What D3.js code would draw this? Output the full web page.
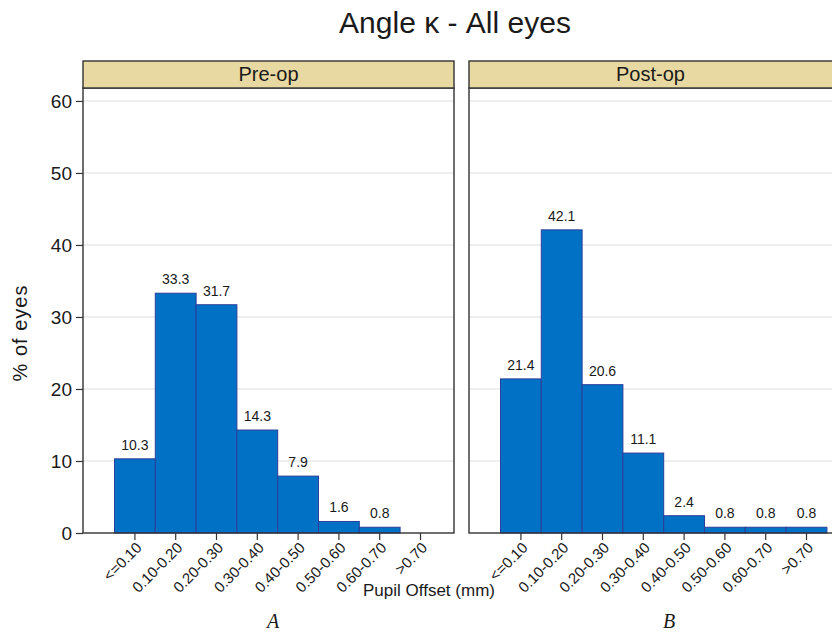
<!DOCTYPE html>
<html>
<head>
<meta charset="utf-8">
<script src="https://cdn.jsdelivr.net/npm/d3@7"></script>
<style>
  html, body { margin: 0; padding: 0; background: #fff; }
  svg { display: block; }
  text { font-family: Arial, "Liberation Sans", sans-serif; fill: #1a1a1a; }
</style>
</head>
<body>
<svg id="chart" width="832" height="633"></svg>
<script>
// ---- Data ----
const categories = ["<=0.10", "0.10-0.20", "0.20-0.30", "0.30-0.40", "0.40-0.50", "0.50-0.60", "0.60-0.70", ">0.70"];
const preOp  = [10.3, 33.3, 31.7, 14.3, 7.9, 1.6, 0.8, null];
const postOp = [21.4, 42.1, 20.6, 11.1, 2.4, 0.8, 0.8, 0.8];
const panelTitles = ["Pre-op", "Post-op"];
const panelLetters = ["A", "B"];
const yTicks = [0, 10, 20, 30, 40, 50, 60];

// ---- Layout ----
const svg = d3.select("#chart");
const stripTop = 61, stripH = 27, plotTop = stripTop + stripH, plotBottom = 533;
const panelW = 371;
const panelX = [83, 469];
const bandOffset = 31.5, bandStep = 40.8;

const y = d3.scaleLinear().domain([0, 61.8]).range([plotBottom, plotTop]);

// Title
svg.append("text")
  .attr("x", 455).attr("y", 33)
  .attr("text-anchor", "middle")
  .style("font-size", "30px")
  .text("Angle \u03BA - All eyes");

// Y axis title
svg.append("text")
  .attr("transform", "translate(27,333) rotate(-90)")
  .attr("text-anchor", "middle")
  .style("font-size", "20px")
  .style("letter-spacing", "1px")
  .text("% of eyes");

// Y axis (left panel only)
const yAxis = d3.axisLeft(y).tickValues(yTicks).tickSize(7).tickPadding(4).tickFormat(d3.format("d"));
const yg = svg.append("g").attr("transform", `translate(${panelX[0]},0)`).call(yAxis);
yg.select(".domain").remove();
yg.selectAll("line").attr("stroke", "#333").attr("stroke-width", 1.2);
yg.selectAll("text").style("font-size", "19px").style("font-family", "Arial, 'Liberation Sans', sans-serif").attr("fill", "#1a1a1a");

const series = [preOp, postOp];

series.forEach((vals, i) => {
  const x0 = panelX[i];
  const x = d3.scaleBand().domain(categories)
    .range([x0 + bandOffset, x0 + bandOffset + bandStep * categories.length])
    .padding(0);
  const g = svg.append("g");

  // plot background
  g.append("rect").attr("x", x0).attr("y", plotTop).attr("width", panelW).attr("height", plotBottom - plotTop)
    .attr("fill", "#fff");

  // gridlines
  g.selectAll(".grid").data(yTicks.filter(d => d > 0)).join("line")
    .attr("x1", x0).attr("x2", x0 + panelW)
    .attr("y1", d => y(d)).attr("y2", d => y(d))
    .attr("stroke", "#dedede").attr("stroke-width", 1);

  // bars
  const data = categories.map((c, k) => ({ c, v: vals[k] })).filter(d => d.v != null);
  g.selectAll(".bar").data(data).join("rect")
    .attr("x", d => x(d.c))
    .attr("y", d => y(d.v))
    .attr("width", x.bandwidth())
    .attr("height", d => y(0) - y(d.v))
    .attr("fill", "#0071C4")
    .attr("stroke", "#2A3E9C")
    .attr("stroke-width", 1);

  // bar labels
  g.selectAll(".lbl").data(data).join("text")
    .attr("x", d => x(d.c) + x.bandwidth() / 2)
    .attr("y", d => y(d.v) - 9)
    .attr("text-anchor", "middle")
    .style("font-size", "14px")
    .text(d => d.v.toFixed(1));

  // x axis
  const xAxis = d3.axisBottom(x).tickSize(7).tickPadding(2);
  const xg = g.append("g").attr("transform", `translate(0,${plotBottom})`).call(xAxis);
  xg.select(".domain").remove();
  xg.selectAll("line").attr("stroke", "#333").attr("stroke-width", 1.2);
  xg.selectAll("text")
    .style("font-size", "15px")
    .style("font-family", "Arial, 'Liberation Sans', sans-serif")
    .attr("fill", "#1a1a1a")
    .attr("text-anchor", "end")
    .attr("dy", "0.35em")
    .attr("transform", "translate(4,12) rotate(-45)")
    .attr("y", 0).attr("x", 0);

  // panel frame
  g.append("rect").attr("x", x0).attr("y", plotTop).attr("width", panelW).attr("height", plotBottom - plotTop)
    .attr("fill", "none").attr("stroke", "#333").attr("stroke-width", 1.4);

  // strip
  g.append("rect").attr("x", x0).attr("y", stripTop).attr("width", panelW).attr("height", stripH)
    .attr("fill", "#E8D9A2").attr("stroke", "#333").attr("stroke-width", 1.4);
  g.append("text")
    .attr("x", x0 + panelW / 2 - (i === 1 ? 4 : 0))
    .attr("y", stripTop + 20)
    .attr("text-anchor", "middle")
    .style("font-size", "20px")
    .text(panelTitles[i]);
});

// X axis title
svg.append("text")
  .attr("x", 429).attr("y", 596)
  .attr("text-anchor", "middle")
  .style("font-size", "17px")
  .text("Pupil Offset (mm)");

// Panel letters
[273, 669].forEach((cx, i) => {
  svg.append("text")
    .attr("x", cx).attr("y", 628)
    .attr("text-anchor", "middle")
    .style("font-family", "'Liberation Serif', 'DejaVu Serif', serif")
    .style("font-style", "italic")
    .style("font-size", "20px")
    .text(panelLetters[i]);
});
</script>
</body>
</html>
